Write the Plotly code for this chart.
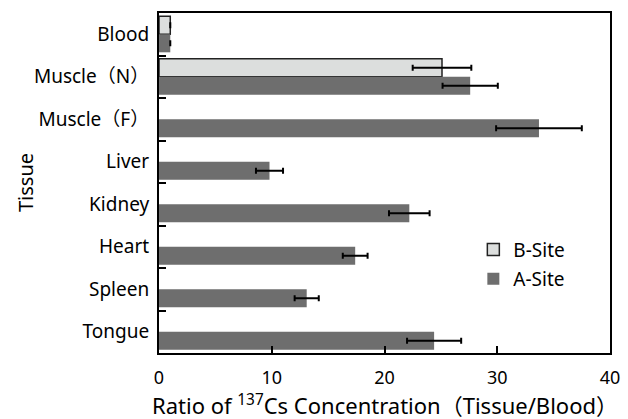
import plotly.graph_objects as go

tissues = ["Blood", "Muscle（N）", "Muscle（F）", "Liver", "Kidney", "Heart", "Spleen", "Tongue"]
b_site = [1.0, 25.1, None, None, None, None, None, None]
b_err = [0, 2.6, None, None, None, None, None, None]
a_site = [1.0, 27.6, 33.7, 9.8, 22.2, 17.4, 13.1, 24.4]
a_err = [0, 2.45, 3.8, 1.2, 1.8, 1.1, 1.07, 2.4]
x_ticks = [0, 10, 20, 30, 40]

FONT = "Noto Sans, Noto Sans CJK JP"

fig = go.Figure()
fig.add_trace(go.Bar(
    y=tissues, x=b_site, orientation="h", name="B-Site", legendgroup="b",
    marker=dict(color="#dcdedd", line=dict(color="#222222", width=1.5)),
    error_x=dict(type="data", array=b_err, visible=True, color="black", thickness=2, width=3),
))
fig.add_trace(go.Bar(
    y=tissues, x=a_site, orientation="h", name="A-Site", legendgroup="a",
    marker=dict(color="#6e6e6e", line=dict(width=0)),
    error_x=dict(type="data", array=a_err, visible=True, color="black", thickness=2, width=3),
))

fig.update_layout(
    width=628, height=419,
    margin=dict(l=159, r=8, t=13, b=66),
    paper_bgcolor="white", plot_bgcolor="white",
    barmode="group", bargap=0.15, bargroupgap=0,
    font=dict(family=FONT, size=18, color="black"),
    showlegend=True,
    legend=dict(x=0.697, y=0.36, xanchor="left", yanchor="top",
                font=dict(family=FONT, size=19, color="black"),
                bgcolor="rgba(0,0,0,0)", itemwidth=30,
                traceorder="grouped", tracegroupgap=1.5),
    xaxis=dict(range=[0, 40], tickvals=x_ticks, ticktext=[str(v) for v in x_ticks],
               ticks="inside", ticklen=7, tickwidth=1.5, tickcolor="black",
               showline=True, linecolor="black", linewidth=2, mirror=True,
               showgrid=False, zeroline=False, fixedrange=True,
               ticklabelstandoff=7, ticklabeloverflow="allow",
               tickfont=dict(family=FONT, size=18)),
    yaxis=dict(autorange="reversed", categoryorder="array", categoryarray=tissues,
               ticks="inside", ticklen=7, tickwidth=1.5, tickcolor="black", tickson="boundaries",
               showline=True, linecolor="black", linewidth=2, mirror=True,
               showgrid=False, zeroline=False, fixedrange=True,
               ticklabelstandoff=4,
               tickfont=dict(family=FONT, size=19)),
)

fig.add_annotation(text="Ratio of <sup>137</sup>Cs Concentration（Tissue/Blood）",
                   xref="paper", yref="paper", x=0.5, y=-0.152, xanchor="center", yanchor="middle",
                   showarrow=False, font=dict(family=FONT, size=22, color="black"))
fig.add_annotation(text="Tissue", xref="paper", yref="paper", x=-0.297, y=0.5,
                   xanchor="center", yanchor="middle", textangle=-90,
                   showarrow=False, font=dict(family=FONT, size=20, color="black"))

fig.write_html("out.html")
